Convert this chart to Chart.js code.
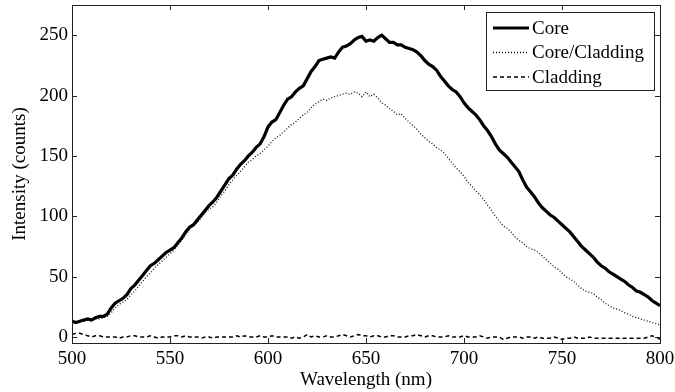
<!DOCTYPE html>
<html>
<head>
<meta charset="utf-8">
<script src="https://cdn.jsdelivr.net/npm/chart.js@4"></script>
<style>
  html, body { margin: 0; padding: 0; background: #fff; }
  #wrap { width: 675px; height: 392px; }
</style>
</head>
<body>
<div id="wrap"><canvas id="chart"></canvas></div>
<script>
// wavelength samples (nm)
const wavelengths = [
  500,502,504,506,508,510,512,514,516,518,520,522,524,526,528,530,532,534,536,538,
  540,542,544,546,548,550,552,554,556,558,560,562,564,566,568,570,572,574,576,578,
  580,582,584,586,588,590,592,594,596,598,600,602,604,606,608,610,612,614,616,618,
  620,622,624,626,628,630,632,634,636,638,640,642,644,646,648,650,652,654,656,658,
  660,662,664,666,668,670,672,674,676,678,680,682,684,686,688,690,692,694,696,698,
  700,702,704,706,708,710,712,714,716,718,720,722,724,726,728,730,732,734,736,738,
  740,742,744,746,748,750,752,754,756,758,760,762,764,766,768,770,772,774,776,778,
  780,782,784,786,788,790,792,794,796,798,800
];

const coreValues = [
  13,12,13,14,15,14,16,17,17,19,24,28,30,32,35,40,43,47,51,55,
  59,61,64,67,70,72,74,78,82,87,91,93,97,101,105,109,112,116,121,126,
  131,134,139,143,146,150,153,157,160,166,174,178,180,186,192,197,199,203,206,208,
  214,220,224,229,230,231,232,231,236,240,241,243,246,248,249,245,246,245,248,250,
  247,244,244,242,242,240,239,238,236,233,229,226,224,221,216,212,208,205,203,199,
  194,190,187,184,180,175,171,166,160,155,152,149,145,141,137,130,124,120,116,111,
  107,104,101,99,96,93,90,87,83,79,75,72,69,66,62,59,57,54,52,50,
  48,46,43,41,38,37,35,33,30,28,26
];

const coreCladdingValues = [
  12,12,13,13,14,14,15,15,16,17,20,24,27,29,31,35,38,42,46,50,
  53,57,60,63,66,69,72,76,80,85,89,92,95,99,103,106,108,112,117,121,
  126,130,134,137,141,145,147,150,152,155,158,162,165,167,170,173,176,178,181,184,
  186,190,193,195,197,196,198,199,200,201,202,201,203,202,199,203,199,201,198,194,
  192,189,187,184,185,181,178,175,172,168,165,162,160,157,155,152,148,144,140,137,
  133,128,125,121,118,114,109,105,100,96,92,90,87,83,80,78,75,73,72,70,
  67,64,61,58,56,53,50,48,46,43,40,38,37,36,33,31,28,26,24,23,
  22,20,19,17,16,15,14,13,12,11,10
];

const claddingValues = [
  2,3,3,2,1,0,1,1,0,0,0,0,-1,0,0,1,1,0,0,0,
  1,0,-1,0,0,0,1,1,0,1,0,0,0,-1,0,0,-1,0,0,0,
  0,0,1,0,1,0,0,0,1,0,0,1,0,0,0,0,-1,0,-1,0,
  2,0,1,0,0,1,0,0,1,2,1,0,1,2,1,1,0,1,1,0,
  0,1,1,0,0,0,1,1,2,1,0,1,1,0,0,0,1,0,0,0,
  1,0,0,0,1,0,-1,0,0,0,-2,-1,0,0,0,-1,0,0,-1,0,
  -1,-1,-1,0,-1,-2,-1,-1,0,-1,-1,-1,0,-1,-1,-1,-1,-1,-1,-1,
  -1,-1,-1,-1,-1,-1,-1,0,1,0,-2
];

const xTicks = [500, 550, 600, 650, 700, 750, 800];
const yTicks = [0, 50, 100, 150, 200, 250];

const FONT = 'Liberation Serif, "Times New Roman", serif';

function toPoints(vals) {
  return wavelengths.map((w, i) => ({ x: w, y: vals[i] }));
}

// box around the plot with inward ticks on all four sides (matlab style)
const boxTicks = {
  id: 'boxTicks',
  afterDatasetsDraw(chart) {
    const ctx = chart.ctx;
    const a = chart.chartArea;
    const xs = chart.scales.x, ys = chart.scales.y;
    const len = 5;
    ctx.save();
    ctx.strokeStyle = '#222';
    ctx.lineWidth = 1;
    ctx.beginPath();
    xTicks.forEach(v => {
      const px = Math.round(xs.getPixelForValue(v)) + 0.5;
      ctx.moveTo(px, a.bottom); ctx.lineTo(px, a.bottom - len);
      ctx.moveTo(px, a.top); ctx.lineTo(px, a.top + len);
    });
    yTicks.forEach(v => {
      const py = Math.round(ys.getPixelForValue(v)) + 0.5;
      ctx.moveTo(a.left, py); ctx.lineTo(a.left + len, py);
      ctx.moveTo(a.right, py); ctx.lineTo(a.right - len, py);
    });
    ctx.stroke();
    ctx.strokeRect(Math.round(a.left) + 0.5, Math.round(a.top) + 0.5,
                   Math.round(a.right - a.left), Math.round(a.bottom - a.top));
    ctx.restore();
  }
};

// legend box in the upper right corner
const boxLegend = {
  id: 'boxLegend',
  afterDraw(chart) {
    const ctx = chart.ctx;
    const a = chart.chartArea;
    const bx = a.right - 174, by = a.top + 7, bw = 168, bh = 78;
    ctx.save();
    ctx.fillStyle = '#fff';
    ctx.fillRect(bx, by, bw, bh);
    ctx.strokeStyle = '#222';
    ctx.lineWidth = 1;
    ctx.strokeRect(bx + 0.5, by + 0.5, bw, bh);
    ctx.font = '19px ' + FONT;
    ctx.textBaseline = 'middle';
    chart.data.datasets.forEach((ds, i) => {
      const y = by + 16 + i * 24.5;
      ctx.beginPath();
      ctx.strokeStyle = ds.borderColor;
      ctx.lineWidth = ds.borderWidth;
      ctx.setLineDash(ds.borderDash || []);
      ctx.moveTo(bx + 7, y);
      ctx.lineTo(bx + 43, y);
      ctx.stroke();
      ctx.setLineDash([]);
      ctx.fillStyle = '#000';
      ctx.fillText(ds.label, bx + 46, y + 1);
    });
    ctx.restore();
  }
};

new Chart(document.getElementById('chart'), {
  type: 'line',
  data: {
    datasets: [
      { label: 'Core', data: toPoints(coreValues), borderColor: '#000', borderWidth: 3.2 },
      { label: 'Core/Cladding', data: toPoints(coreCladdingValues), borderColor: '#111', borderWidth: 1.3, borderDash: [1, 2] },
      { label: 'Cladding', data: toPoints(claddingValues), borderColor: '#000', borderWidth: 1.5, borderDash: [4, 3] }
    ]
  },
  options: {
    responsive: true,
    maintainAspectRatio: false,
    animation: false,
    layout: { padding: { top: 5, right: 15, left: 0, bottom: 0 } },
    elements: { point: { radius: 0 }, line: { tension: 0 } },
    plugins: { legend: { display: false }, tooltip: { enabled: false } },
    scales: {
      x: {
        type: 'linear',
        min: 500, max: 800,
        afterBuildTicks: s => { s.ticks = xTicks.map(v => ({ value: v })); },
        afterFit: s => { s.height = 49; s.paddingLeft = 0; s.paddingRight = 0; },
        grid: { display: false, drawTicks: false },
        border: { display: false },
        ticks: { color: '#000', font: { family: FONT, size: 19 }, padding: 5, maxRotation: 0 },
        title: { display: true, text: 'Wavelength (nm)', color: '#000', font: { family: FONT, size: 19 }, padding: { top: 0, bottom: 1 } }
      },
      y: {
        min: -5, max: 275,
        afterBuildTicks: s => { s.ticks = yTicks.map(v => ({ value: v })); },
        afterFit: s => { s.width = 72; s.paddingTop = 0; s.paddingBottom = 0; },
        grid: { display: false, drawTicks: false },
        border: { display: false },
        ticks: { color: '#000', font: { family: FONT, size: 19 }, padding: 4 },
        title: { display: true, text: 'Intensity (counts)', color: '#000', font: { family: FONT, size: 19 }, padding: { top: 9, bottom: 0 } }
      }
    }
  },
  plugins: [boxTicks, boxLegend]
});
</script>
</body>
</html>
